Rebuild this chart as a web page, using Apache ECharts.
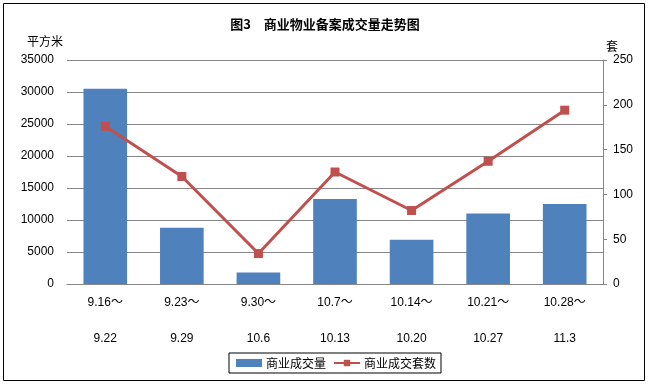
<!DOCTYPE html>
<html><head><meta charset="utf-8">
<script src="https://cdn.jsdelivr.net/npm/echarts@6/dist/echarts.min.js"></script>
<style>html,body{margin:0;padding:0;background:#fff}#c{width:648px;height:384px}</style>
</head><body><div id="c"></div>
<script>
var categories = ['9.16～\n9.22','9.23～\n9.29','9.30～\n10.6','10.7～\n10.13','10.14～\n10.20','10.21～\n10.27','10.28～\n11.3'];
var areaValues = [30500, 8800, 1800, 13300, 6900, 11000, 12500];
var unitValues = [176, 120, 34, 125, 82, 137, 194];
var leftTicks = {min: 0, max: 35000, interval: 5000};
var rightTicks = {min: 0, max: 250, interval: 50};
var titleText = '图3　商业物业备案成交量走势图';
var seriesNames = ['商业成交量', '商业成交套数'];

var font = '"Liberation Sans", "Noto Sans CJK SC", sans-serif';
var chart = echarts.init(document.getElementById('c'));
chart.setOption({
  animation: false,
  textStyle: {fontFamily: font, color: '#000'},
  title: {text: titleText, left: 320, textAlign: 'center', top: 13,
    textStyle: {fontSize: 13, fontWeight: 'bold', color: '#000', fontFamily: '"Noto Sans CJK SC", sans-serif'}},
  graphic: [{type: 'rect', shape: {x: 3.5, y: 3.5, width: 641, height: 377},
    style: {fill: 'none', stroke: '#000', lineWidth: 1}, silent: true}],
  legend: {left: 229, top: 353, padding: [4, 5, 4, 7], itemGap: 7, itemWidth: 26, itemHeight: 8,
    borderColor: '#000', borderWidth: 1, borderRadius: 0,
    textStyle: {fontSize: 12, color: '#000', fontFamily: '"Noto Sans CJK SC", sans-serif', padding: [0,0,0,-1]},
    data: [{name: seriesNames[0], icon: 'rect'}, {name: seriesNames[1]}]},
  grid: {left: 67, right: 45, top: 60, bottom: 100, containLabel: false},
  xAxis: {type: 'category', data: categories,
    axisLine: {lineStyle: {color: '#878787'}}, axisTick: {show: false},
    axisLabel: {fontSize: 12, color: '#000', lineHeight: 36, margin: 1, interval: 0}},
  yAxis: [
    {type: 'value', min: leftTicks.min, max: leftTicks.max, interval: leftTicks.interval,
      name: '平方米', nameLocation: 'end', nameGap: 13,
      nameTextStyle: {fontSize: 12, color: '#000', padding: [0, 44, 0, 0], fontFamily: '"Noto Sans CJK SC", sans-serif'},
      axisLine: {show: false}, axisTick: {show: false},
      axisLabel: {fontSize: 12, color: '#000', margin: 13, formatter: function (v) { return String(v); }},
      splitLine: {lineStyle: {color: '#878787', width: 1}}},
    {type: 'value', min: rightTicks.min, max: rightTicks.max, interval: rightTicks.interval,
      name: '套', nameLocation: 'end', nameGap: 8,
      nameTextStyle: {fontSize: 12, color: '#000', padding: [0, 0, 0, 18], fontFamily: '"Noto Sans CJK SC", sans-serif'},
      axisLine: {show: true, lineStyle: {color: '#878787'}},
      axisTick: {show: true, inside: false, length: 4, lineStyle: {color: '#878787'}},
      axisLabel: {fontSize: 12, color: '#000', margin: 10, formatter: function (v) { return String(v); }},
      splitLine: {show: false}}
  ],
  series: [
    {name: seriesNames[0], type: 'bar', data: areaValues, yAxisIndex: 0,
      barCategoryGap: '43%', itemStyle: {color: '#4F81BD'}},
    {name: seriesNames[1], type: 'line', data: unitValues, yAxisIndex: 1,
      symbol: 'rect', symbolSize: 9, lineStyle: {color: '#C0504D', width: 3},
      itemStyle: {color: '#C0504D'}}
  ]
});
</script></body></html>
